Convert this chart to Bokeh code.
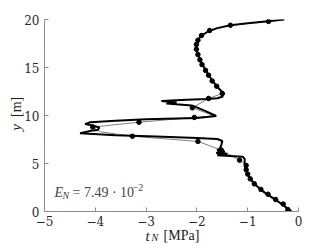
import math
from bokeh.plotting import figure
from bokeh.models import Label, FixedTicker
from bokeh.embed import file_html
from bokeh.resources import INLINE

# thick line (reference traction profile)
thick_x = [-0.28, -0.6, -1.0, -1.34, -1.6, -1.78, -1.92, -1.99, -2.01, -1.99, -1.95, -1.88, -1.79,
           -1.70, -1.60, -1.52, -1.47, -1.5, -1.6, -1.8, -2.2, -2.7, -2.4, -2.6, -2.1, -1.85, -1.62,
           -2.0, -3.0, -3.6, -4.1, -4.2, -4.05, -3.92, -3.95, -4.1, -4.3, -3.6, -2.8, -2.0, -1.6,
           -1.5, -1.52, -1.55, -1.6, -1.45, -1.62, -1.4, -1.6, -1.1, -1.06, -1.06, -1.04, -1.0,
           -0.92, -0.82, -0.7, -0.56, -0.42, -0.3, -0.2, -0.14]
thick_y = [20.0, 19.82, 19.62, 19.4, 19.1, 18.75, 18.3, 17.8, 17.2, 16.5, 15.9, 15.2, 14.4,
           13.65, 13.0, 12.55, 12.25, 11.95, 11.8, 11.72, 11.65, 11.5, 11.35, 11.25, 11.05, 10.5, 9.95,
           9.75, 9.6, 9.45, 9.3, 9.1, 8.95, 8.75, 8.5, 8.4, 8.15, 7.95, 7.8, 7.65, 7.55,
           7.35, 6.9, 6.55, 6.35, 6.25, 6.1, 6.0, 5.85, 5.7, 5.5, 5.0, 4.4, 3.8,
           3.2, 2.65, 2.1, 1.6, 1.1, 0.65, 0.25, 0.05]

# sampled points (dots) and thin interpolating line
dot_x = [-0.59, -1.34, -1.75, -1.91, -1.98, -2.01, -2.01, -1.98, -1.94, -1.90, -1.83, -1.77, -1.70,
         -1.61, -1.50, -1.77, -2.09, -2.05, -3.14, -4.05, -3.27, -1.98, -1.52, -1.16, -1.03, -1.03,
         -1.0, -0.95, -0.87, -0.74, -0.60, -0.45, -0.30, -0.21]
dot_y = [19.8, 19.4, 18.85, 18.33, 17.84, 17.4, 16.9, 16.35, 15.8, 15.3, 14.7, 14.2, 13.6,
         13.05, 12.3, 11.77, 10.8, 9.8, 9.3, 8.8, 7.84, 7.3, 6.4, 5.35, 4.8, 4.35,
         3.9, 3.4, 2.88, 2.3, 1.8, 1.25, 0.77, 0.2]

thin_x = [-0.28, -0.59, -1.34, -1.75, -1.91, -1.98, -2.01, -2.01, -1.98, -1.94, -1.90, -1.83, -1.77,
          -1.70, -1.61, -1.50, -1.77, -2.09, -1.65, -2.05, -3.14, -4.05, -3.9, -3.27, -1.98, -1.52,
          -1.16, -1.03, -1.03, -1.0, -0.95, -0.87, -0.74, -0.60, -0.45, -0.30, -0.21, -0.14]
thin_y = [20.0, 19.8, 19.4, 18.85, 18.33, 17.84, 17.4, 16.9, 16.35, 15.8, 15.3, 14.7, 14.2,
          13.6, 13.05, 12.3, 11.77, 10.8, 9.95, 9.8, 9.3, 8.8, 8.3, 7.84, 7.3, 6.4,
          5.35, 4.8, 4.35, 3.9, 3.4, 2.88, 2.3, 1.8, 1.25, 0.77, 0.2, 0.05]

x_ticks = [-5, -4, -3, -2, -1, 0]
y_ticks = [0, 5, 10, 15, 20]

FONT = "DejaVu Serif"
FONT2 = "Liberation Serif"

p = figure(width=330, height=247, x_range=(-5, 0), y_range=(0, 20),
           output_backend="svg", toolbar_location=None,
           min_border_left=44, min_border_right=32, min_border_top=19, min_border_bottom=36)
p.outline_line_color = None
p.grid.grid_line_color = None

for ax in (p.xaxis, p.yaxis):
    ax.axis_line_color = "#8c8c8c"
    ax.major_tick_line_color = "#8c8c8c"
    ax.major_tick_in = 4
    ax.major_tick_out = 0
    ax.minor_tick_line_color = None
    ax.major_label_text_font = FONT
    ax.major_label_text_font_size = "12px"
    ax.major_label_text_color = "#262626"
p.xaxis.ticker = FixedTicker(ticks=x_ticks)
p.yaxis.ticker = FixedTicker(ticks=y_ticks)
p.xaxis.major_label_standoff = 4
p.yaxis.major_label_standoff = 5

p.line(thin_x, thin_y, line_color="#808080", line_width=1)
p.line(thick_x, thick_y, line_color="black", line_width=2)
p.scatter(dot_x, dot_y, size=4.5, color="black")

# axis labels: pieces placed in side panels (data coords -> positioned via the plot scales)
def lab(x, y, text, size, italic=False, align="left", angle=0.0):
    return Label(x=x, y=y, text=text, text_font=FONT2,
                 text_font_style="italic" if italic else "normal",
                 text_font_size=size, text_align=align, text_baseline="middle",
                 angle=angle, text_color="#1a1a1a")

p.add_layout(lab(-2.972, -2.5, "t", "15px", italic=True, align="center"), "right")
p.add_layout(lab(-2.894, -2.76, "N", "10px", italic=True), "right")
p.add_layout(lab(-2.657, -2.5, "[MPa]", "14px"), "below")
p.add_layout(lab(-5.561, 10.9, "[m]", "14px", align="center", angle=math.pi / 2), "left")
p.add_layout(lab(-5.561, 8.75, "y", "15px", italic=True, align="center", angle=math.pi / 2), "above")

# error annotation
ay = 2.0
p.add_layout(Label(x=-5, y=ay, x_offset=10, text="E", text_font=FONT2, text_font_style="italic",
                   text_font_size="14px", text_baseline="middle"))
p.add_layout(Label(x=-5, y=ay, x_offset=18, y_offset=-3, text="N", text_font=FONT2,
                   text_font_style="italic", text_font_size="10px", text_baseline="middle"))
p.add_layout(Label(x=-5, y=ay, x_offset=28, text="= 7.49 · 10", text_font=FONT2,
                   text_font_size="14px", text_baseline="middle"))
p.add_layout(Label(x=-5, y=ay, x_offset=88, y_offset=5, text="−2", text_font=FONT2,
                   text_font_size="10px", text_baseline="middle"))

open("out.html", "w").write(file_html(p, INLINE))
